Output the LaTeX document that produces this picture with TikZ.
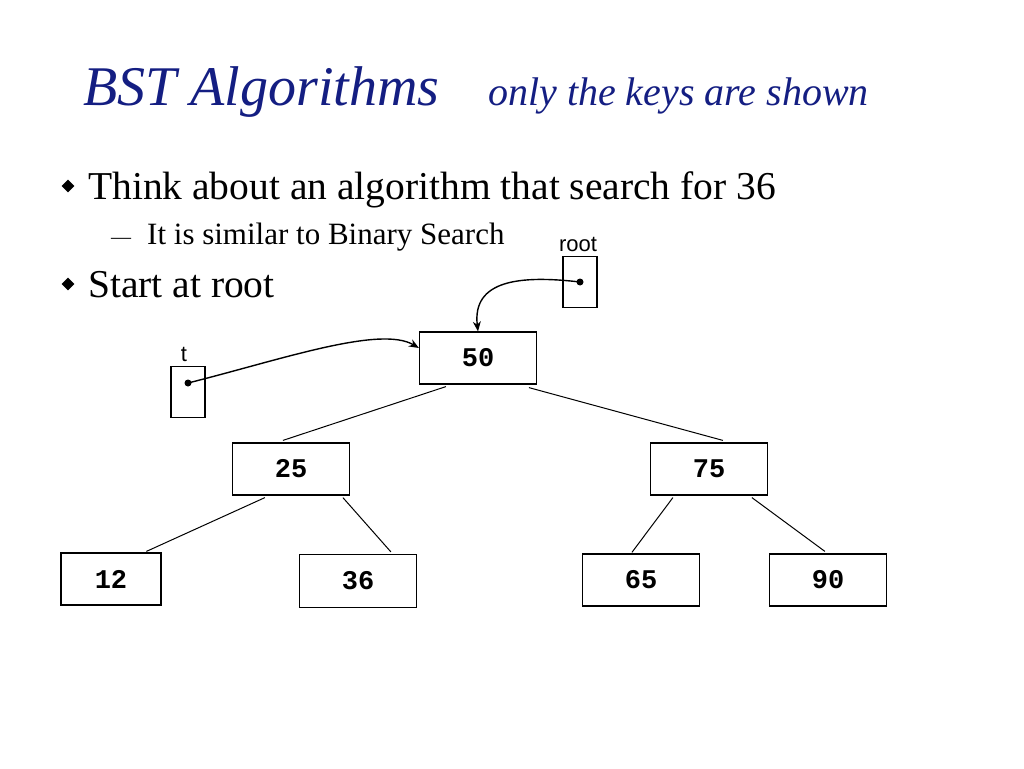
\documentclass[tikz,border=0pt]{standalone}
\usepackage{fontspec}
\setmainfont{Liberation Serif}
\newfontfamily\monob{Liberation Mono}
\newfontfamily\sansf{Liberation Sans}
\usetikzlibrary{calc,arrows.meta,shapes.geometric}
\definecolor{titleblue}{RGB}{20,30,130}
\begin{document}
\begin{tikzpicture}[x=1pt,y=-1pt,
  keybox/.style={draw,line width=1.2pt,minimum width=117pt,minimum height=52pt,inner sep=0pt,font=\monob\bfseries\fontsize{27}{27}\selectfont},
  ptrbox/.style={draw,line width=1.2pt,minimum width=34pt,minimum height=51pt,inner sep=0pt},
  edge/.style={line width=1pt},
  ptr/.style={line width=1.4pt,-{Stealth[length=10pt,width=8pt]}}]
\useasboundingbox (0,0) rectangle (1024,768);
\node[anchor=base west,text=titleblue,font=\itshape\fontsize{56}{56}\selectfont,inner sep=0pt] (title) at (83,105) {BST Algorithms};
\node[anchor=base west,text=titleblue,font=\itshape\fontsize{40}{40}\selectfont,inner sep=0pt] (sub) at (488,105) {only the keys are shown};
\node[fill,diamond,inner sep=0pt,minimum size=13pt] (b1) at (68,186) {};
\node[anchor=base west,font=\fontsize{39.5}{39.5}\selectfont,inner sep=0pt] (t1) at (88,199) {Think about an algorithm that search for 36};
\node[anchor=base west,font=\fontsize{20}{20}\selectfont,inner sep=0pt] (d1) at (111,243) {—};
\node[anchor=base west,font=\fontsize{31}{31}\selectfont,inner sep=0pt] (t2) at (147,244) {It is similar to Binary Search};
\node[fill,diamond,inner sep=0pt,minimum size=13pt] (b2) at (68,284) {};
\node[anchor=base west,font=\fontsize{39.5}{39.5}\selectfont,inner sep=0pt] (t3) at (88,297) {Start at root};
\node[font=\sansf\fontsize{22}{22}\selectfont,inner sep=0pt] (rootl) at (578,244) {root};
\node[ptrbox] (rootb) at (580,282) {};
\fill (rootb.center) circle (3.5pt);
\node[font=\sansf\fontsize{22}{22}\selectfont,inner sep=0pt] (tl) at (184,354) {t};
\node[ptrbox] (tb) at (188,392) {};
\coordinate (td) at (188,383);
\fill (td) circle (3.5pt);
\node[keybox] (n50) at (478,358) {50};
\node[keybox] (n25) at (291,469) {25};
\node[keybox] (n75) at (709,469) {75};
\node[keybox,minimum width=100pt] (n12) at (111,579) {12};
\node[keybox,minimum height=53pt] (n36) at (358,581) {36};
\node[keybox] (n65) at (641,580) {65};
\node[keybox] (n90) at (828,580) {90};
\draw[ptr] (rootb.center) .. controls (520,275) and (472,280) .. (n50.north);
\draw[ptr] (td) .. controls (280,360) and (380,325) .. (n50.west|-0,348);
\draw[edge] ($(n50.south west)+(27,2)$) -- ($(n25.north west)+(51,-2)$);
\draw[edge] ($(n50.south west)+(110,3)$) -- ($(n75.north west)+(73,-2)$);
\draw[edge] ($(n25.south west)+(33,2)$) -- ($(n12.north west)+(86,-1)$);
\draw[edge] ($(n25.south west)+(111,2)$) -- ($(n36.north west)+(92,-2)$);
\draw[edge] ($(n75.south west)+(23,2)$) -- ($(n65.north west)+(50,-1)$);
\draw[edge] ($(n75.south west)+(102,2)$) -- ($(n90.north west)+(56,-2)$);
\end{tikzpicture}
\end{document}
